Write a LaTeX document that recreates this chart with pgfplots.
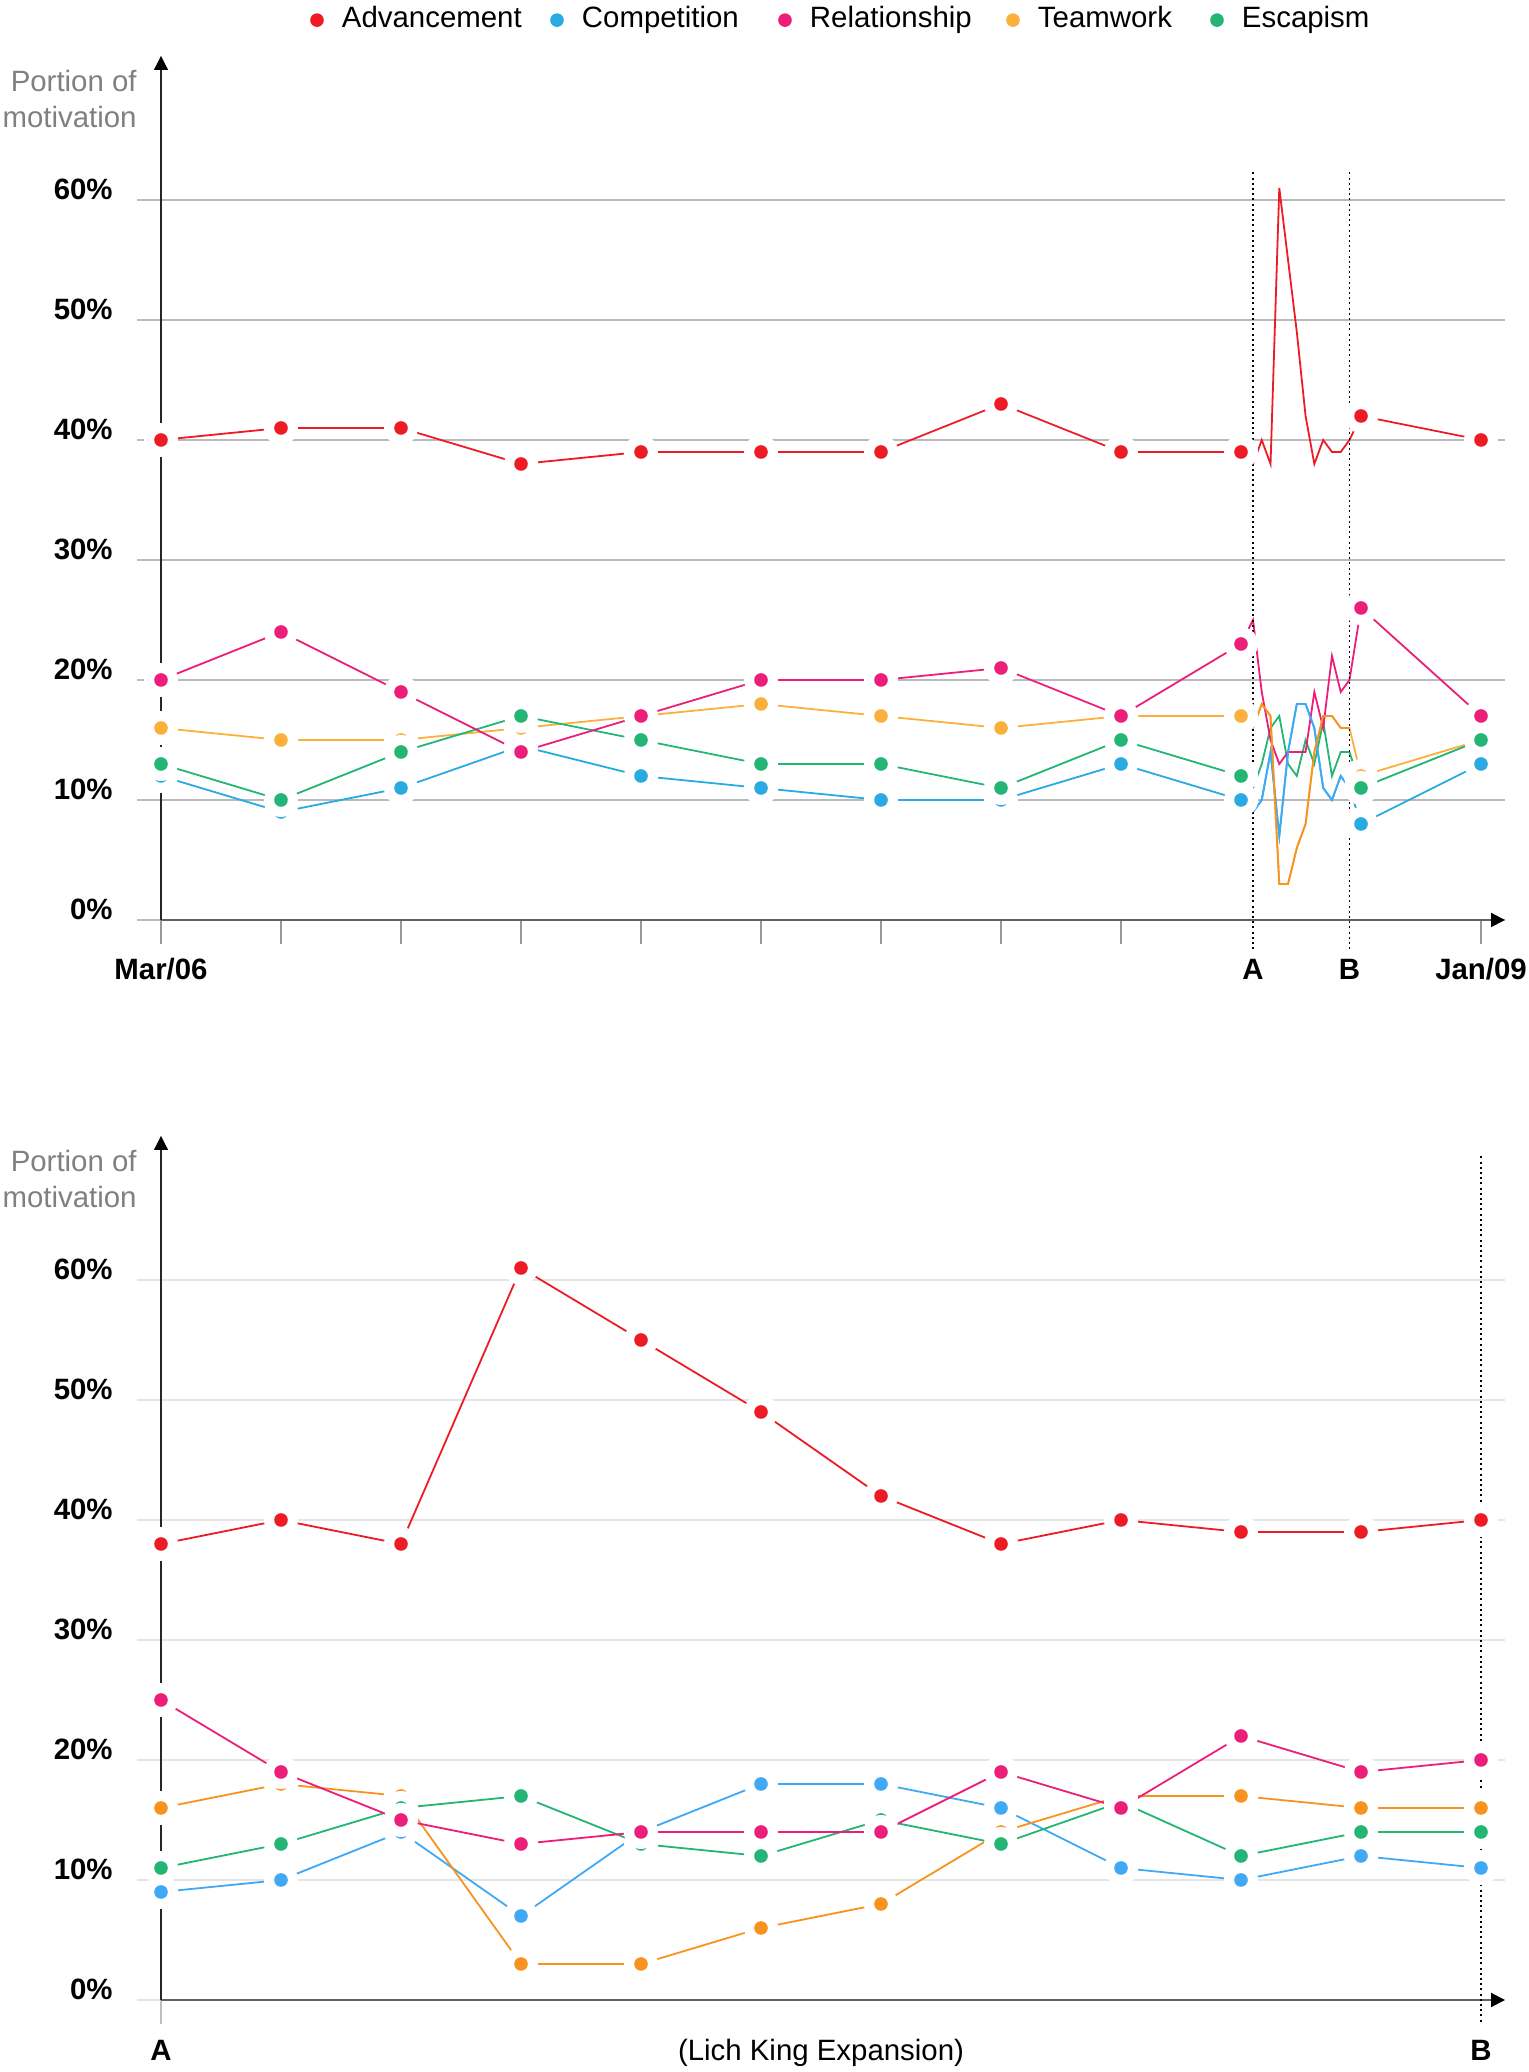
\documentclass[border=0pt]{standalone}
\usepackage{fontspec}
\setmainfont{Liberation Sans}
\usepackage{pgfplots}
\pgfplotsset{compat=1.18}
\usepackage{pgfplotstable}
\usetikzlibrary{arrows.meta}

\definecolor{cRed}{HTML}{ED1C24}
\definecolor{cBlue}{HTML}{29ABE2}
\definecolor{cPink}{HTML}{ED1E79}
\definecolor{cOrange}{HTML}{FBB03B}
\definecolor{cGreen}{HTML}{22B573}
\definecolor{dBlue}{HTML}{3FA9F5}
\definecolor{dOrange}{HTML}{F7931E}

\pgfdeclareplotmark{halo}{%
  \pgfscope\pgfsetfillcolor{white}\pgfpathcircle{\pgfpointorigin}{8.5pt}\pgfusepathqfill\endpgfscope
  \pgfpathcircle{\pgfpointorigin}{3.4pt}\pgfusepathqfill}

% top chart: main monthly points
\pgfplotstableread{
x adv comp rel team esc
0 40 12 20 16 13
1 41 9 24 15 10
2 41 11 19 15 14
3 38 14.5 14 16 17
4 39 12 17 17 15
5 39 11 20 18 13
6 39 10 20 17 13
7 43 10 21 16 11
8 39 13 17 17 15
9 39 10 23 17 12
10 42 8 26 12 11
11 40 13 17 15 15
}\topmain

% top chart: full line incl. the compressed A-B stretch
\pgfplotstableread{
x adv comp rel team esc
0 40 12 20 16 13
1 41 9 24 15 10
2 41 11 19 15 14
3 38 14.5 14 16 17
4 39 12 17 17 15
5 39 11 20 18 13
6 39 10 20 17 13
7 43 10 21 16 11
8 39 13 17 17 15
9 39 10 23 17 12
9.100 38 9 25 16 11
9.173 40 10 19 18 13
9.246 38 14 15 17 16
9.319 61 7 13 3 17
9.392 55 14 14 3 13
9.465 49 18 14 6 12
9.538 42 18 14 8 15
9.611 38 16 19 14 13
9.685 40 11 16 17 16.5
9.758 39 10 22 17 12
9.831 39 12 19 16 14
9.904 40 11 20 16 14
10 42 8 26 12 11
11 40 13 17 15 15
}\topline

\pgfplotstableread{
x adv comp rel team esc
9.100 38 9 25 16 11
9.173 40 10 19 18 13
9.246 38 14 15 17 16
9.319 61 7 13 3 17
9.392 55 14 14 3 13
9.465 49 18 14 6 12
9.538 42 18 14 8 15
9.611 38 16 19 14 13
9.685 40 11 16 17 16.5
9.758 39 10 22 17 12
9.831 39 12 19 16 14
9.904 40 11 20 16 14
}\topdense

% bottom chart: Lich King expansion A..B
\pgfplotstableread{
x adv comp rel team esc
0 38 9 25 16 11
1 40 10 19 18 13
2 38 14 15 17 16
3 61 7 13 3 17
4 55 14 14 3 13
5 49 18 14 6 12
6 42 18 14 8 15
7 38 16 19 14 13
8 40 11 16 17 16.5
9 39 10 22 17 12
10 39 12 19 16 14
11 40 11 20 16 14
}\bottomdata

\pgfplotsset{
  motiv/.style={
    x=60pt, y=6pt, xmin=-0.2, xmax=11.2, ymin=0, ymax=72,
    clip=false,
    axis line style={draw=none},
    tick pos=left,
    ytick={0,10,...,60},
    yticklabels={0\%,10\%,20\%,30\%,40\%,50\%,60\%},
    yticklabel style={anchor=base east, inner sep=0pt, xshift=-12pt,
      font=\fontsize{14.7}{17.6}\selectfont\bfseries},
    ytick style={draw=none},
    major tick length=12pt,
    xtick align=outside,
    xticklabels={},
    ymajorgrids,
  },
  ln/.style={line width=0.9pt, forget plot},
  dots/.style={only marks, mark=halo, forget plot},
}

\begin{document}
\begin{tikzpicture}[font=\fontsize{14.7}{17.6}\selectfont]
\useasboundingbox (0,0) rectangle (764pt,1036pt);

% ---------------- top chart ----------------
\begin{axis}[motiv, at={(68.5pt,576pt)}, anchor=south west,
  xtick={0,1,2,3,4,5,6,7,8,11},
  x tick style={draw=black!40, line width=1pt},
  major grid style={draw=black!27, line width=1pt},
  legend image code/.code={\path[draw=none,fill=none] (-3.4pt,0pt) rectangle (12.5pt,0pt); \fill[#1,draw=none] (0pt,-1pt) circle (3.4pt);},
  legend style={draw=none, fill=none, inner sep=0pt, outer sep=0pt,
    at={(rel axis cs:0.1266,1.0438)}, anchor=west,
    legend columns=-1, font=\fontsize{14.7}{17.6}\selectfont,
    nodes={inner sep=0pt},
    /tikz/every even column/.append style={column sep=0pt},
    /tikz/every odd column/.append style={column sep=0pt}},
  legend cell align=left,
]
\addlegendimage{cRed}\addlegendentry{\makebox[104.1pt][l]{Advancement}}
\addlegendimage{cBlue}\addlegendentry{\makebox[98.1pt][l]{Competition}}
\addlegendimage{cPink}\addlegendentry{\makebox[98.1pt][l]{Relationship}}
\addlegendimage{cOrange}\addlegendentry{\makebox[86.1pt][l]{Teamwork}}
\addlegendimage{cGreen}\addlegendentry{Escapism}

\draw[black!62, line width=1pt, -{Triangle[length=7pt,width=7pt,color=black]}] (axis cs:0,0) -- (axis cs:11.2,0);
\draw[black!85, line width=0.6pt, -{Triangle[length=7pt,width=7pt,color=black]}] (axis cs:0,0) -- (axis cs:0,72);

\node[anchor=base east, inner sep=0pt, text=black!50] at (axis cs:-0.2,69) {Portion of};
\node[anchor=base east, inner sep=0pt, text=black!50] at (axis cs:-0.2,66) {motivation};

\addplot[ln, cBlue] table[x=x, y=comp] {\topline};
\addplot[ln, cOrange] table[x=x, y=team] {\topline};
\addplot[ln, cGreen] table[x=x, y=esc] {\topline};
\addplot[ln, cPink] table[x=x, y=rel] {\topline};
\addplot[ln, cRed] table[x=x, y=adv] {\topline};
\addplot[ln, dBlue] table[x=x, y=comp] {\topdense};
\addplot[ln, dOrange] table[x=x, y=team] {\topdense};

\addplot[dots, cBlue] table[x=x, y=comp] {\topmain};
\addplot[dots, cOrange] table[x=x, y=team] {\topmain};
\addplot[dots, cGreen] table[x=x, y=esc] {\topmain};
\addplot[dots, cPink] table[x=x, y=rel] {\topmain};
\addplot[dots, cRed] table[x=x, y=adv] {\topmain};

\draw[black, line width=0.8pt, dash pattern=on 1pt off 1.6pt] (axis cs:9.1,62.3) -- (axis cs:9.1,-2.6);
\draw[black, line width=0.8pt, dash pattern=on 1pt off 1.6pt] (axis cs:9.904,62.3) -- (axis cs:9.904,-2.6);

\node[anchor=base, font=\fontsize{14.7}{17.6}\selectfont\bfseries] at (axis cs:0,-4.92) {Mar/06};
\node[anchor=base, font=\fontsize{14.7}{17.6}\selectfont\bfseries] at (axis cs:9.1,-4.92) {A};
\node[anchor=base, font=\fontsize{14.7}{17.6}\selectfont\bfseries] at (axis cs:9.904,-4.92) {B};
\node[anchor=base, font=\fontsize{14.7}{17.6}\selectfont\bfseries] at (axis cs:11,-4.92) {Jan/09};
\end{axis}

% ---------------- bottom chart ----------------
\begin{axis}[motiv, at={(68.5pt,36pt)}, anchor=south west,
  xtick={0},
  x tick style={draw=black!25, line width=0.8pt},
  major grid style={draw=black!10, line width=1pt},
]
\draw[black!62, line width=1pt, -{Triangle[length=7pt,width=7pt,color=black]}] (axis cs:0,0) -- (axis cs:11.2,0);
\draw[black!85, line width=0.6pt, -{Triangle[length=7pt,width=7pt,color=black]}] (axis cs:0,0) -- (axis cs:0,72);
\draw[black, line width=0.8pt, dash pattern=on 1pt off 1.6pt] (axis cs:11,70.3) -- (axis cs:11,-1.9);

\node[anchor=base east, inner sep=0pt, text=black!50] at (axis cs:-0.2,69) {Portion of};
\node[anchor=base east, inner sep=0pt, text=black!50] at (axis cs:-0.2,66) {motivation};

\addplot[ln, dBlue] table[x=x, y=comp] {\bottomdata};
\addplot[ln, dOrange] table[x=x, y=team] {\bottomdata};
\addplot[ln, cGreen] table[x=x, y=esc] {\bottomdata};
\addplot[ln, cPink] table[x=x, y=rel] {\bottomdata};
\addplot[ln, cRed] table[x=x, y=adv] {\bottomdata};

\addplot[dots, dBlue] table[x=x, y=comp] {\bottomdata};
\addplot[dots, dOrange] table[x=x, y=team] {\bottomdata};
\addplot[dots, cGreen] table[x=x, y=esc] {\bottomdata};
\addplot[dots, cPink] table[x=x, y=rel] {\bottomdata};
\addplot[dots, cRed] table[x=x, y=adv] {\bottomdata};

\node[anchor=base, font=\fontsize{14.7}{17.6}\selectfont\bfseries] at (axis cs:0,-5) {A};
\node[anchor=base] at (axis cs:5.5,-5) {(Lich King Expansion)};
\node[anchor=base, font=\fontsize{14.7}{17.6}\selectfont\bfseries] at (axis cs:11,-5) {B};
\end{axis}
\end{tikzpicture}
\end{document}
